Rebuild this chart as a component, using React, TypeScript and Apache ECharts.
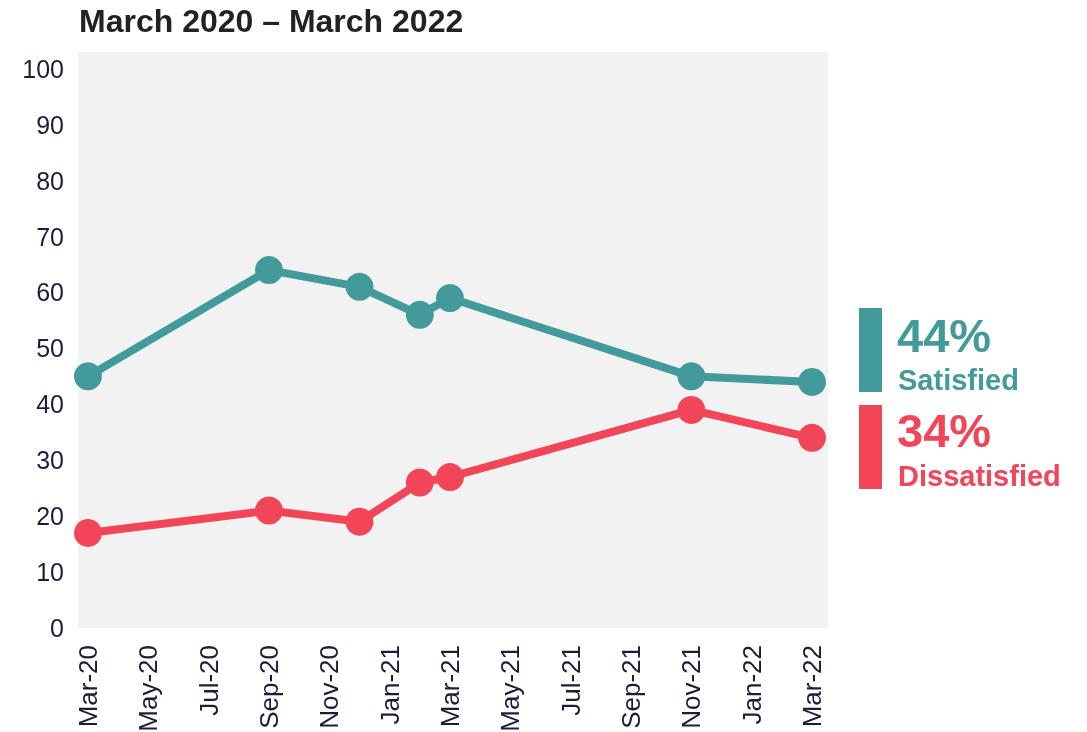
import React, { useEffect, useRef } from "react";
import * as echarts from "echarts";

const months = [
  "Mar-20", "Apr-20", "May-20", "Jun-20", "Jul-20", "Aug-20", "Sep-20", "Oct-20", "Nov-20", "Dec-20",
  "Jan-21", "Feb-21", "Mar-21", "Apr-21", "May-21", "Jun-21", "Jul-21", "Aug-21", "Sep-21", "Oct-21",
  "Nov-21", "Dec-21", "Jan-22", "Feb-22", "Mar-22",
];
const tickLabels = [
  "Mar-20", "May-20", "Jul-20", "Sep-20", "Nov-20", "Jan-21", "Mar-21",
  "May-21", "Jul-21", "Sep-21", "Nov-21", "Jan-22", "Mar-22",
];
const surveyDates = ["Mar-20", "Sep-20", "Dec-20", "Feb-21", "Mar-21", "Nov-21", "Mar-22"];
const satisfied = [45, 64, 61, 56, 59, 45, 44];
const dissatisfied = [17, 21, 19, 26, 27, 39, 34];
const yTicks = [0, 10, 20, 30, 40, 50, 60, 70, 80, 90, 100];

const TEAL = "#429B9A";
const RED = "#F24558";
const TEXT = "#1c1d3a";
const FONT = "'Liberation Sans', Arial, sans-serif";

export default function App() {
  const ref = useRef<HTMLDivElement>(null);
  useEffect(() => {
    if (!ref.current) return;
    const chart = echarts.init(ref.current, undefined, { renderer: "svg" });
    const toPts = (vals: number[]) => surveyDates.map((d, i) => [months.indexOf(d), vals[i]]);
    const lastSat = satisfied[satisfied.length - 1];
    const lastDis = dissatisfied[dissatisfied.length - 1];
    chart.setOption({
      animation: false,
      textStyle: { fontFamily: FONT },
      grid: {
        left: 78, right: 259, top: 52, bottom: 104,
        outerBoundsMode: "none",
        containLabel: false,
        show: true, backgroundColor: "#F2F2F2", borderWidth: 0,
      },
      xAxis: {
        type: "value",
        min: -0.33,
        max: 24.53,
        axisLine: { show: false },
        axisTick: { show: false },
        splitLine: { show: false },
        axisLabel: {
          customValues: tickLabels.map((t) => months.indexOf(t)),
          formatter: (v: number) => months[Math.round(v)] ?? "",
          rotate: 90,
          margin: 17,
          fontSize: 26,
          color: TEXT,
          fontFamily: FONT,
        },
      },
      yAxis: {
        type: "value",
        min: 0,
        max: 103,
        axisLine: { show: false },
        axisTick: { show: false },
        splitLine: { show: false },
        axisLabel: {
          customValues: yTicks,
          margin: 14,
          fontSize: 25,
          color: TEXT,
          fontFamily: FONT,
        },
      },
      series: [
        {
          name: "Satisfied",
          type: "line",
          data: toPts(satisfied),
          symbol: "circle",
          symbolSize: 28,
          itemStyle: { color: TEAL },
          lineStyle: { color: TEAL, width: 8 },
        },
        {
          name: "Dissatisfied",
          type: "line",
          data: toPts(dissatisfied),
          symbol: "circle",
          symbolSize: 28,
          itemStyle: { color: RED },
          lineStyle: { color: RED, width: 8 },
        },
      ],
      graphic: [
        {
          type: "text", x: 79, y: 21,
          style: {
            text: "March 2020 \u2013 March 2022", font: `bold 32px ${FONT}`, fill: "#222222",
            textVerticalAlign: "middle",
          },
        },
        { type: "rect", shape: { x: 859, y: 308, width: 23, height: 84 }, style: { fill: TEAL } },
        { type: "rect", shape: { x: 859, y: 405, width: 23, height: 84 }, style: { fill: RED } },
        {
          type: "text", x: 897, y: 335,
          style: { text: `${lastSat}%`, font: `bold 47px ${FONT}`, fill: TEAL, textVerticalAlign: "middle" },
        },
        {
          type: "text", x: 898, y: 380,
          style: { text: "Satisfied", font: `bold 29px ${FONT}`, fill: TEAL, textVerticalAlign: "middle" },
        },
        {
          type: "text", x: 897, y: 430,
          style: { text: `${lastDis}%`, font: `bold 47px ${FONT}`, fill: RED, textVerticalAlign: "middle" },
        },
        {
          type: "text", x: 898, y: 476,
          style: { text: "Dissatisfied", font: `bold 29px ${FONT}`, fill: RED, textVerticalAlign: "middle" },
        },
      ],
    });
    return () => chart.dispose();
  }, []);
  return (
    <div
      ref={ref}
      style={{ position: "fixed", left: 0, top: 0, width: 1087, height: 732 }}
    />
  );
}
